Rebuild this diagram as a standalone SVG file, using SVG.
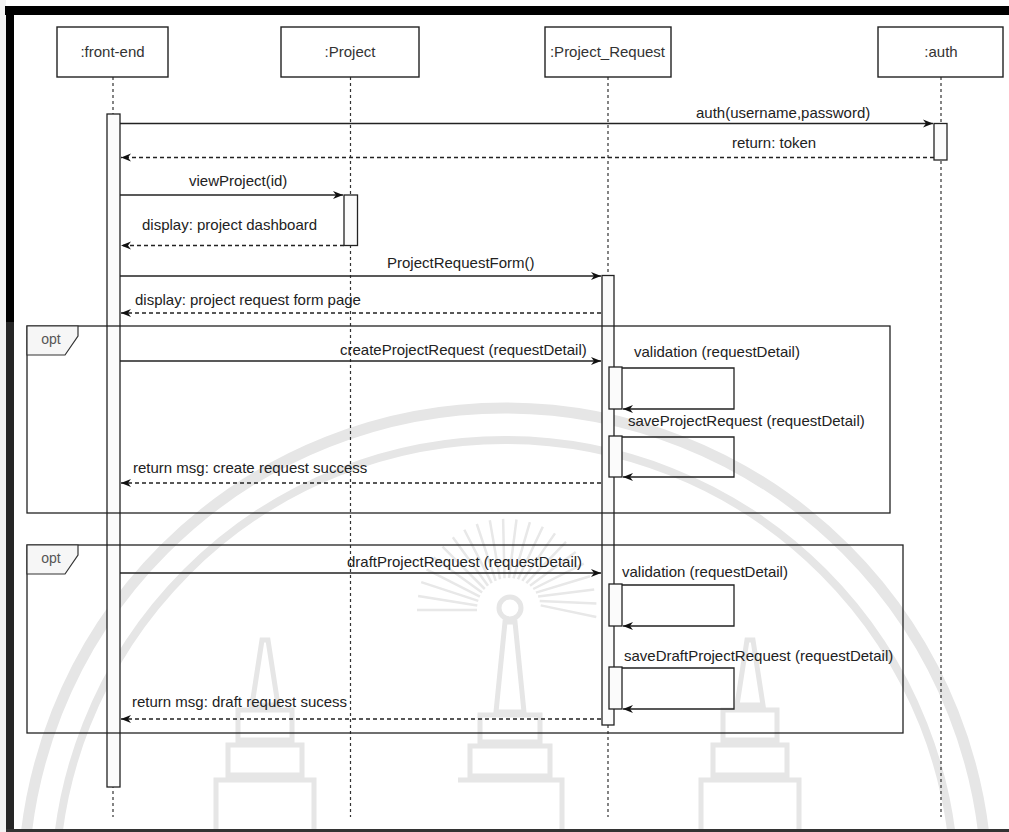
<svg xmlns="http://www.w3.org/2000/svg" width="1009" height="832" viewBox="0 0 1009 832">
<style>
.t{font-family:"Liberation Sans",Arial,sans-serif;font-size:15px;fill:#222}
.h{font-family:"Liberation Sans",Arial,sans-serif;font-size:15px;fill:#333;text-anchor:middle}
.o{font-family:"Liberation Sans",Arial,sans-serif;font-size:14px;fill:#555;text-anchor:middle}
.box{fill:#fff;stroke:#222;stroke-width:1.4}
.life{stroke:#333;stroke-width:1.2;stroke-dasharray:3 3;fill:none}
.act{fill:#fbfbfb;stroke:#222;stroke-width:1.3}
.msg{stroke:#222;stroke-width:1.3;fill:none;marker-end:url(#ah)}
.ret{stroke:#222;stroke-width:1.3;fill:none;stroke-dasharray:4 3;marker-end:url(#oa)}
.frm{fill:none;stroke:#222;stroke-width:1.3}
.tag{fill:#f6f6f6;stroke:#333;stroke-width:1.2}
.wm{fill:none;stroke:#e6e6e6}
</style>
<defs>
<marker id="ah" markerWidth="12" markerHeight="10" refX="10" refY="5" orient="auto" markerUnits="userSpaceOnUse">
<path d="M0,1 L10,5 L0,9 L3,5 Z" fill="#111"/>
</marker>
<marker id="oa" markerWidth="12" markerHeight="10" refX="10" refY="5" orient="auto" markerUnits="userSpaceOnUse">
<path d="M0,1 L10,5 L0,9 L3,5 Z" fill="#111"/>
</marker>
</defs>
<rect x="0" y="0" width="1009" height="832" fill="#fff"/>
<rect x="0" y="0" width="6" height="832" fill="#f3f3f3"/>

<g id="watermark">
<circle class="wm" cx="505" cy="890" r="482" stroke-width="11"/>
<circle class="wm" cx="505" cy="890" r="450" stroke-width="8"/>
<g stroke="#e8e8e8" stroke-width="2.5">
<path d="M477,610 L417,610 M477.3,605.4 L418.1,595.9 M478.3,600.9 L421.2,582.1 M479.9,596.6 L426.5,569.3 M482.1,592.6 L433.6,557.4 M484.8,589 L442.5,546.6 M488,585.8 L452.8,537.2 M491.7,583.1 L464.3,529.7 M495.7,580.9 L476.8,524 M500,579.3 L489.8,520.3 M504.5,578.3 L503.1,518.9 M509,578 L516.5,519.5 M513.5,578.3 L529.9,522.1 M518,579.3 L542.8,526.7 M522.3,580.9 L555,533.4 M526.3,583.1 L566,541.8 M530,585.8 L575.7,552 M533.2,589 L583.8,563.6 M535.9,592.6 L590,576.2 M538.1,596.6 L594.2,589.6 M539.7,600.9 L596.4,603.4 M540.7,605.4 L596.3,617"/>
</g>
<circle class="wm" cx="510" cy="608" r="11" stroke-width="5"/>
<path class="wm" stroke-width="5" d="M505,622 L496,712 L524,712 L515,622 Z M480,715 H540 V742 H480 Z M470,746 H550 V776 H470 Z M458,780 H562 V832"/>
<path class="wm" stroke-width="5" d="M262,640 L252,705 L278,705 L268,640 Z M238,710 H292 V740 H238 Z M228,745 H302 V775 H228 Z M216,780 H314 V832 H216 Z"/>
<path class="wm" stroke-width="5" d="M747,640 L737,705 L763,705 L753,640 Z M723,710 H777 V740 H723 Z M713,745 H787 V775 H713 Z M701,780 H799 V832 H701 Z"/>
</g>

<g id="border">
<rect x="5" y="6" width="1004" height="9" fill="#000"/>
<rect x="6" y="6" width="8" height="316" fill="#000"/>
<rect x="6" y="322" width="8" height="510" fill="#262626"/>
<rect x="6" y="829" width="1003" height="3" fill="#333"/>
</g>

<g id="lifelines">
<line class="life" x1="113" y1="77" x2="113" y2="817"/>
<line class="life" x1="350.5" y1="77" x2="350.5" y2="817"/>
<line class="life" x1="608" y1="77" x2="608" y2="817"/>
<line class="life" x1="941" y1="77" x2="941" y2="817"/>
</g>

<g id="front-end">
<rect class="box" x="57" y="27" width="111" height="50"/>
<text class="h" x="112.5" y="57">:front-end</text>
<rect class="act" x="107" y="114" width="13" height="673"/>
</g>
<g id="project">
<rect class="box" x="281" y="27" width="138" height="50"/>
<text class="h" x="350" y="57">:Project</text>
<rect class="act" x="344" y="195" width="13.5" height="50.5"/>
</g>
<g id="project-request">
<rect class="box" x="545" y="27" width="126" height="50"/>
<text class="h" x="607.5" y="57">:Project_Request</text>
<rect class="act" x="602" y="275.5" width="12" height="449.5"/>
<rect class="act" x="609" y="367" width="13" height="42"/>
<rect class="act" x="609" y="436" width="13" height="41"/>
<rect class="act" x="609" y="584" width="13" height="42"/>
<rect class="act" x="609" y="667" width="13" height="42"/>
</g>
<g id="auth">
<rect class="box" x="878" y="27" width="125" height="50"/>
<text class="h" x="941" y="57">:auth</text>
<rect class="act" x="934" y="123.5" width="13" height="36.5"/>
</g>

<g id="connectors">
<line class="msg" x1="120" y1="123.5" x2="933" y2="123.5"/>
<line class="ret" x1="934" y1="157.5" x2="121" y2="157.5"/>
<line class="msg" x1="120" y1="195" x2="343" y2="195"/>
<line class="ret" x1="344" y1="245.5" x2="121" y2="245.5"/>
<line class="msg" x1="120" y1="276" x2="601" y2="276"/>
<line class="ret" x1="601" y1="313" x2="121" y2="313"/>
<line class="msg" x1="120" y1="361" x2="601" y2="361"/>
<path class="msg" d="M622,368 H734 V409 H623"/>
<path class="msg" d="M622,437 H734 V477 H623"/>
<line class="ret" x1="601" y1="483" x2="121" y2="483"/>
<line class="msg" x1="120" y1="573" x2="601" y2="573"/>
<path class="msg" d="M622,585 H734 V626 H623"/>
<path class="msg" d="M622,668 H734 V709 H623"/>
<line class="ret" x1="601" y1="719" x2="121" y2="719"/>
</g>

<g id="labels">
<text class="t" x="696" y="118">auth(username,password)</text>
<text class="t" x="732" y="148">return: token</text>
<text class="t" x="189" y="186">viewProject(id)</text>
<text class="t" x="142" y="230">display: project dashboard</text>
<text class="t" x="387" y="268">ProjectRequestForm()</text>
<text class="t" x="135" y="305">display: project request form page</text>
<text class="t" x="340" y="355">createProjectRequest (requestDetail)</text>
<text class="t" x="634" y="357">validation (requestDetail)</text>
<text class="t" x="628" y="426">saveProjectRequest (requestDetail)</text>
<text class="t" x="133" y="473">return msg: create request success</text>
<text class="t" x="347" y="567">draftProjectRequest (requestDetail)</text>
<text class="t" x="622" y="577">validation (requestDetail)</text>
<text class="t" x="624" y="661">saveDraftProjectRequest (requestDetail)</text>
<text class="t" x="132" y="707">return msg: draft request sucess</text>
</g>

<g id="opt1">
<rect class="frm" x="27" y="326" width="863" height="187"/>
<path class="tag" d="M27,326 H78 V336 L65,355 H27 Z"/>
<text class="o" x="51" y="344">opt</text>
</g>
<g id="opt2">
<rect class="frm" x="27" y="545" width="876" height="188"/>
<path class="tag" d="M27,545 H78 V555 L65,574 H27 Z"/>
<text class="o" x="51" y="563">opt</text>
</g>
</svg>
